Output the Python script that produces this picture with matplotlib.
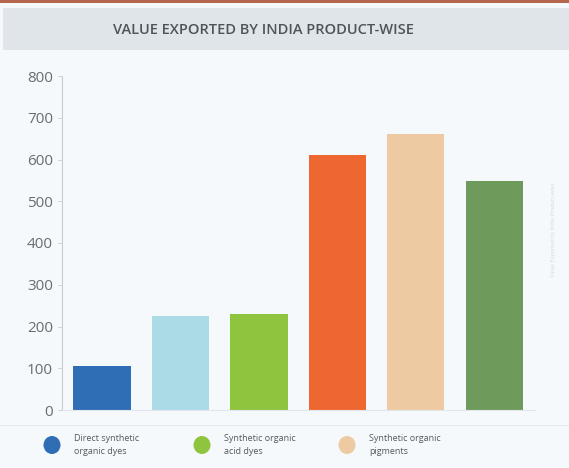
import matplotlib.pyplot as plt
from matplotlib.patches import Rectangle, Ellipse

products = ['Direct synthetic\norganic dyes', 'Product 2', 'Synthetic organic\nacid dyes',
            'Product 4', 'Synthetic organic\npigments', 'Product 6']
values = [105, 225, 230, 611, 661, 548]
colors = ['#2f6db5', '#acdbe8', '#8fc43f', '#ef6730', '#eecaa2', '#6e9a5c']
legend_idx = [0, 2, 4]
yticks = [0, 100, 200, 300, 400, 500, 600, 700, 800]

plt.rcParams['font.family'] = ['Open Sans', 'DejaVu Sans']

fig = plt.figure(figsize=(5.69, 4.68), dpi=100)
fig.patch.set_facecolor('#f6f9fc')

# top stripe and title band
fig.patches.append(Rectangle((0, 1 - 3 / 468), 1, 3 / 468, transform=fig.transFigure,
                             facecolor='#b5644e', edgecolor='none'))
fig.patches.append(Rectangle((3 / 569, 1 - 50 / 468), 1, 42 / 468, transform=fig.transFigure,
                             facecolor='#dfe5e8', edgecolor='none'))
fig.text(0.463, 1 - 30 / 468, 'VALUE EXPORTED BY INDIA PRODUCT-WISE', ha='center', va='center',
         fontsize=10.5, fontweight='semibold', color='#4f5458')

ax = fig.add_axes([62 / 569, 58 / 468, 473 / 569, 334 / 468])
ax.set_facecolor('#f6f9fc')
ax.bar(range(len(values)), values, width=0.73, color=colors)
ax.set_xlim(-0.51, 5.52)
ax.set_ylim(0, 800)
ax.set_yticks(yticks)
ax.tick_params(axis='y', labelsize=11, colors='#686d71', length=3, width=0.6)
ax.tick_params(axis='y', color='#c8ccd0')
ax.set_xticks([])
for s in ['top', 'right']:
    ax.spines[s].set_visible(False)
ax.spines['left'].set_color('#c8ccd0')
ax.spines['bottom'].set_color('#e2e6ea')

# faint vertical watermark
fig.text(553 / 569, 1 - 230 / 468, 'Value Exported by India Product-wise', rotation=90,
         ha='center', va='center', fontsize=4, color='#d4d9de')

# separator and legend
fig.lines.append(plt.Line2D([0, 1], [1 - 425 / 468] * 2, transform=fig.transFigure,
                            color='#e6eaee', lw=0.8))
leg_x = [52, 202, 347]
for x, i in zip(leg_x, legend_idx):
    fig.patches.append(Ellipse((x / 569, 1 - 445 / 468), 17 / 569, 18 / 468,
                               transform=fig.transFigure,
                               facecolor=colors[i], edgecolor='none'))
    fig.text((x + 22) / 569, 1 - 445 / 468, products[i], ha='left', va='center',
             fontsize=6.5, color='#555a5e', linespacing=1.5)

fig.savefig('out.png', dpi=100, facecolor=fig.get_facecolor())
